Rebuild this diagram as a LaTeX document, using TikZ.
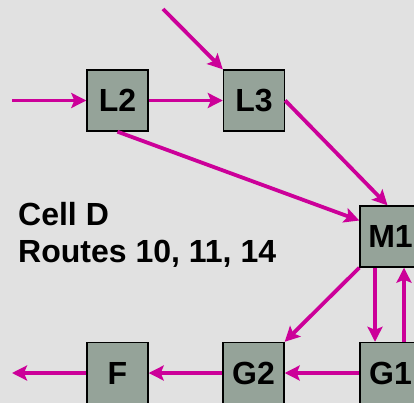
\documentclass[tikz,border=0pt]{standalone}
\usepackage{fontspec}
\setmainfont{Liberation Sans}
\usepackage{xcolor}
\usetikzlibrary{arrows.meta}
\definecolor{cellbg}{HTML}{E1E1E1}
\definecolor{route}{HTML}{CC0099}
\definecolor{station}{HTML}{95A399}

\begin{document}
\begin{tikzpicture}[x=1pt,y=-1pt,>={Stealth[length=15pt,width=15pt,inset=3pt]}]
\tikzstyle{station}=[draw=black,fill=station,line width=1.4pt,minimum size=61pt,inner sep=0pt,font=\fontsize{32}{38}\selectfont\bfseries]
\tikzstyle{flow}=[draw=route,line width=3.8pt,->]
\fill[cellbg] (0,0) rectangle (414,403);
\useasboundingbox (0,0) rectangle (414,403);
\foreach \pos/\name in {{(117.5,100.5)/L2},{(254,100.5)/L3},{(390.5,236.5)/M1},{(390.5,373)/G1},{(253.5,373)/G2},{(117.5,373)/F}}
  \node[station] (\name) at \pos {\name};
\coordinate (inL) at (12,100.5);
\coordinate (inT) at (163,9);
\coordinate (outL) at (12,373);
\path[flow] (inL) to (L2);
\path[flow] (L2) to (L3);
\path[flow] (inT) to (L3.north west);
\path[flow] (L3.east) to ([xshift=-3pt]M1.north);
\path[flow] (L2.south) to ([yshift=16pt]M1.west);
\path[flow] (M1.south west) to (G2.north east);
\path[flow] ([xshift=-15.5pt]M1.south) to ([xshift=-15.5pt]G1.north);
\path[flow] ([xshift=13.5pt]G1.north) to ([xshift=13.5pt]M1.south);
\path[flow] (G1) to (G2);
\path[flow] (G2) to (F);
\path[flow] (F) to (outL);
\node[anchor=base west,align=left,inner sep=0pt,font=\fontsize{32}{37}\selectfont\bfseries] (cell) at (18,262) {Cell D\\Routes 10, 11, 14};
\end{tikzpicture}
\end{document}
